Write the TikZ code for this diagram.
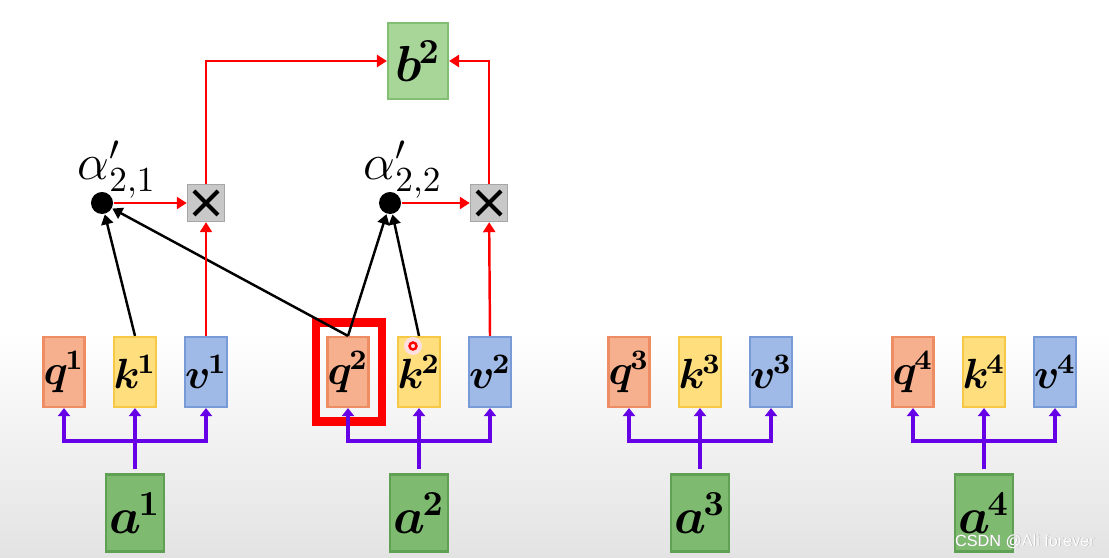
\documentclass[tikz,border=0pt]{standalone}
\usepackage{amsmath,amssymb,bm}
\usepackage{fontspec}
\newfontfamily\wmfont{Liberation Sans}
\usetikzlibrary{calc,arrows.meta,positioning}

\definecolor{qfill}{RGB}{246,176,142}
\definecolor{qline}{RGB}{238,140,100}
\definecolor{kfill}{RGB}{255,222,125}
\definecolor{kline}{RGB}{246,200,70}
\definecolor{vfill}{RGB}{160,186,232}
\definecolor{vline}{RGB}{120,155,215}
\definecolor{afill}{RGB}{126,186,112}
\definecolor{aline}{RGB}{96,160,84}
\definecolor{bfill}{RGB}{168,214,152}
\definecolor{bline}{RGB}{130,190,115}
\definecolor{purp}{RGB}{102,0,230}
\definecolor{mulfill}{RGB}{200,200,200}

\newcommand{\bsym}[2]{$\bm{#1}^{\mkern-1.5mu\bm{#2}}$}

\tikzset{
  vecbox/.style={draw, line width=0.6pt, minimum width=0.37cm, minimum height=0.7cm, inner sep=0pt, font=\large},
  qbox/.style={vecbox, fill=qfill, draw=qline},
  kbox/.style={vecbox, fill=kfill, draw=kline},
  vbox/.style={vecbox, fill=vfill, draw=vline},
  abox/.style={draw=aline, fill=afill, line width=0.6pt, minimum width=0.58cm, minimum height=0.77cm, inner sep=0pt, font=\Large},
  bbox/.style={draw=bline, fill=bfill, line width=0.6pt, minimum width=0.6cm, minimum height=0.76cm, inner sep=0pt, font=\Large},
  mulbox/.style={draw=gray!70, fill=mulfill, minimum size=0.37cm, inner sep=0pt},
  dot/.style={circle, fill=black, minimum size=0.22cm, inner sep=0pt},
  redarr/.style={red, line width=0.7pt, -{Triangle[length=0.1cm,width=0.12cm]}},
  blkarr/.style={black, line width=0.7pt, -{Triangle[length=0.1cm,width=0.12cm]}},
  purline/.style={purp, line width=1.1pt},
  purarr/.style={purline, -{Triangle[length=0.08cm,width=0.12cm]}},
  wmtext/.style={font=\wmfont\fontsize{4.6}{6}\selectfont, inner sep=0pt, anchor=east}
}

\begin{document}
\begin{tikzpicture}[x=0.01cm,y=-0.01cm]
  % background, 1 unit = 1 px of the slide
  \fill[white] (0,0) rectangle (1109,558);
  \shade[top color=white, bottom color=gray!22] (0,330) rectangle (1109,558);
  \useasboundingbox (0,0) rectangle (1109,558);

  % q^2 is the selected query
  \node[draw=red, line width=2.3pt, minimum width=0.66cm, minimum height=0.99cm] (sel) at (349,372) {};

  % q, k, v from each input a
  \foreach \i/\x in {1/135,2/419,3/700,4/984} {
    \node[qbox] (q\i) at (\x-71,372) {\bsym{q}{\i}};
    \node[kbox] (k\i) at (\x,372) {\bsym{k}{\i}};
    \node[vbox] (v\i) at (\x+71,372) {\bsym{v}{\i}};
    \node[abox] (a\i) at (\x,513) {\bsym{a}{\i}};
    \coordinate (j\i) at (\x,441);
    \draw[purline, shorten <=0.04cm] (a\i.north) -- (j\i);
    \draw[purarr] (j\i) -- (k\i.south);
    \draw[purarr] (j\i) -| (q\i.south);
    \draw[purarr] (j\i) -| (v\i.south);
  }

  % attention scores and weighted sum
  \node[bbox] (b2) at (418,61) {\bsym{b}{2}};
  \node[mulbox] (m1) at (206,203) {};
  \node[mulbox] (m2) at (489,203) {};
  \foreach \m in {m1,m2} {
    \draw[line width=1.2pt] ([shift={(-12,-12)}]\m.center) -- ([shift={(12,12)}]\m.center);
    \draw[line width=1.2pt] ([shift={(-12,12)}]\m.center) -- ([shift={(12,-12)}]\m.center);
  }
  \node[dot] (d1) at (102,203) {};
  \node[dot] (d2) at (390,203) {};
  \node[font=\Large] (l1) at (117,170) {$\alpha'_{2,1}$};
  \node[font=\Large] (l2) at (403,170) {$\alpha'_{2,2}$};

  \draw[blkarr] (k1.north) -- (d1);
  \draw[blkarr] (q2.north) -- (d1);
  \draw[blkarr] (q2.north) -- (d2);
  \draw[blkarr] (k2.north) -- (d2);

  \draw[redarr] (d1) -- (m1);
  \draw[redarr] (d2) -- (m2);
  \draw[redarr] (v1.north) -- (m1);
  \draw[redarr] (v2.north) -- (m2);
  \draw[redarr] (m1.north) |- (b2.west);
  \draw[redarr] (m2.north) |- (b2.east);

  % pointer mark
  \fill[red!12] (413,346) circle (0.09cm);
  \draw[red, line width=0.7pt] (413,346) circle (0.035cm);

  % watermark
  \node[wmtext, text=gray!70] (wmsh) at (1096,542) {CSDN @Ali forever};
  \node[wmtext, text=white] (wm) at (1095.5,541.5) {CSDN @Ali forever};
\end{tikzpicture}
\end{document}
